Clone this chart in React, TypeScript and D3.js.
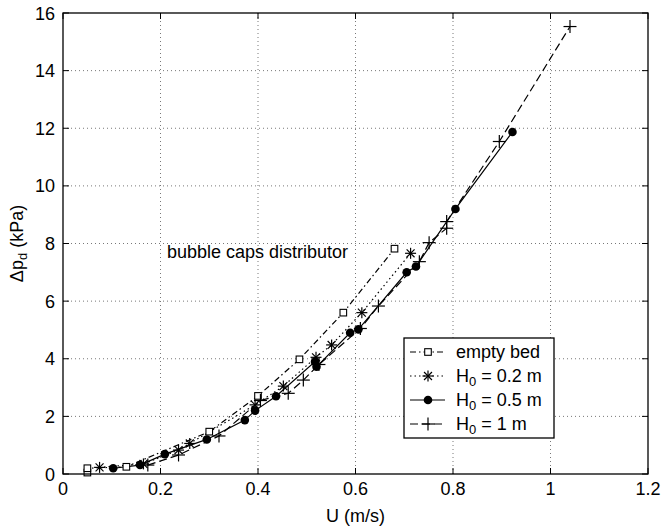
import React from "react";
import * as d3 from "d3";

const xTicks = [0, 0.2, 0.4, 0.6, 0.8, 1, 1.2];
const yTicks = [0, 2, 4, 6, 8, 10, 12, 14, 16];

const emptyBedU = [0.05, 0.05, 0.13, 0.3, 0.4, 0.485, 0.575, 0.68];
const emptyBedP = [0.05, 0.2, 0.25, 1.47, 2.71, 3.98, 5.6, 7.82];

const h02U = [0.075, 0.165, 0.237, 0.26, 0.394, 0.452, 0.519, 0.551, 0.613, 0.713];
const h02P = [0.23, 0.35, 0.83, 1.06, 2.4, 3.05, 4.05, 4.48, 5.6, 7.66];

const h05U = [0.103, 0.158, 0.209, 0.295, 0.373, 0.394, 0.437, 0.517, 0.52, 0.589, 0.606, 0.705, 0.724, 0.805, 0.922];
const h05P = [0.2, 0.31, 0.69, 1.2, 1.87, 2.2, 2.7, 3.9, 3.72, 4.9, 5.02, 7.0, 7.2, 9.2, 11.87];

const h1U = [0.174, 0.237, 0.32, 0.405, 0.462, 0.493, 0.525, 0.61, 0.647, 0.731, 0.751, 0.787, 0.787, 0.895, 1.04];
const h1P = [0.31, 0.66, 1.32, 2.55, 2.8, 3.26, 3.8, 5.05, 5.83, 7.37, 8.03, 8.53, 8.76, 11.54, 15.53];

const W = 664;
const H = 530;
const L = 63, R = 648, T = 13, B = 474;
const FONT = "'Liberation Sans', Arial, Helvetica, sans-serif";
const FS = 18;
const SUB = 13;

const x = d3.scaleLinear().domain([0, 1.2]).range([L, R]);
const y = d3.scaleLinear().domain([0, 16]).range([B, T]);

type Pt = [number, number];
const zip = (u: number[], p: number[]): Pt[] => u.map((v, i) => [v, p[i]]);

const line = d3.line<Pt>().x(d => x(d[0])).y(d => y(d[1]));

function Marker({ kind, cx, cy }: { kind: string; cx: number; cy: number }) {
  if (kind === "square") {
    const s = 3.3;
    return <rect x={cx - s} y={cy - s} width={2 * s} height={2 * s} fill="white" stroke="black" strokeWidth={1.1} />;
  }
  if (kind === "circle") {
    return <circle cx={cx} cy={cy} r={4.3} fill="black" />;
  }
  if (kind === "plus") {
    const s = 6.5;
    return (
      <g stroke="black" strokeWidth={1.2}>
        <line x1={cx - s} x2={cx + s} y1={cy} y2={cy} />
        <line x1={cx} x2={cx} y1={cy - s} y2={cy + s} />
      </g>
    );
  }
  const s = 5.5;
  const d = s * 0.72;
  return (
    <g stroke="black" strokeWidth={1.2}>
      <line x1={cx - s} x2={cx + s} y1={cy} y2={cy} />
      <line x1={cx} x2={cx} y1={cy - s} y2={cy + s} />
      <line x1={cx - d} x2={cx + d} y1={cy - d} y2={cy + d} />
      <line x1={cx - d} x2={cx + d} y1={cy + d} y2={cy - d} />
    </g>
  );
}

const series = [
  { name: "empty bed", sub: "", rest: "", data: zip(emptyBedU, emptyBedP), marker: "square", dash: "6,3,1.5,3" },
  { name: "H", sub: "0", rest: " = 0.2 m", data: zip(h02U, h02P), marker: "asterisk", dash: "1.5,3" },
  { name: "H", sub: "0", rest: " = 0.5 m", data: zip(h05U, h05P), marker: "circle", dash: "" },
  { name: "H", sub: "0", rest: " = 1 m", data: zip(h1U, h1P), marker: "plus", dash: "8,4" },
];

export default function App() {
  const legX = 404, legY = 338, legW = 150, legH = 100;
  return (
    <svg width={W} height={H} style={{ position: "absolute", left: 0, top: 0, background: "white" }} fontFamily={FONT}>
      <rect x={0} y={0} width={W} height={H} fill="white" />
      <g stroke="#555" strokeWidth={0.8} strokeDasharray="1,3">
        {xTicks.slice(1, -1).map(t => (
          <line key={"gx" + t} x1={x(t)} x2={x(t)} y1={T} y2={B} />
        ))}
        {yTicks.slice(1, -1).map(t => (
          <line key={"gy" + t} x1={L} x2={R} y1={y(t)} y2={y(t)} />
        ))}
      </g>
      <g stroke="black" strokeWidth={1}>
        {xTicks.map(t => (
          <g key={"tx" + t}>
            <line x1={x(t)} x2={x(t)} y1={B} y2={B - 6} />
            <line x1={x(t)} x2={x(t)} y1={T} y2={T + 6} />
          </g>
        ))}
        {yTicks.map(t => (
          <g key={"ty" + t}>
            <line x1={L} x2={L + 6} y1={y(t)} y2={y(t)} />
            <line x1={R} x2={R - 6} y1={y(t)} y2={y(t)} />
          </g>
        ))}
      </g>
      {series.map((s, i) => (
        <path key={"l" + i} d={line(s.data) || ""} fill="none" stroke="black" strokeWidth={1.2} strokeDasharray={s.dash || undefined} />
      ))}
      {series.map((s, i) => (
        <g key={"m" + i}>
          {s.data.map((d, j) => (
            <Marker key={j} kind={s.marker} cx={x(d[0])} cy={y(d[1])} />
          ))}
        </g>
      ))}
      <rect x={L} y={T} width={R - L} height={B - T} fill="none" stroke="black" strokeWidth={1.3} />
      <g fontSize={FS} fill="black">
        {xTicks.map(t => (
          <text key={"lx" + t} x={x(t)} y={B + 21} textAnchor="middle">{d3.format("~g")(t)}</text>
        ))}
        {yTicks.map(t => (
          <text key={"ly" + t} x={L - 8} y={y(t) + 6.5} textAnchor="end">{t}</text>
        ))}
      </g>
      <text x={(L + R) / 2} y={B + 48} textAnchor="middle" fontSize={FS}>U (m/s)</text>
      <text transform={`translate(23, ${(T + B) / 2}) rotate(-90)`} textAnchor="middle" fontSize={FS}>
        Δp<tspan dy={4} fontSize={SUB}>d</tspan><tspan dy={-4}> (kPa)</tspan>
      </text>
      <text x={167} y={258} fontSize={FS}>bubble caps distributor</text>
      <rect x={legX} y={legY} width={legW} height={legH} fill="white" stroke="black" strokeWidth={1.3} />
      {series.map((s, i) => {
        const cy = legY + 14 + i * 24;
        return (
          <g key={"lg" + i}>
            <line x1={legX + 6} x2={legX + 41} y1={cy} y2={cy} stroke="black" strokeWidth={1.2} strokeDasharray={s.dash || undefined} />
            <Marker kind={s.marker} cx={legX + 24} cy={cy} />
            <text x={legX + 52} y={cy + 6} fontSize={FS}>
              {s.sub ? (
                <>
                  {s.name}
                  <tspan dy={4} fontSize={SUB}>{s.sub}</tspan>
                  <tspan dy={-4}>{s.rest}</tspan>
                </>
              ) : s.name}
            </text>
          </g>
        );
      })}
    </svg>
  );
}
